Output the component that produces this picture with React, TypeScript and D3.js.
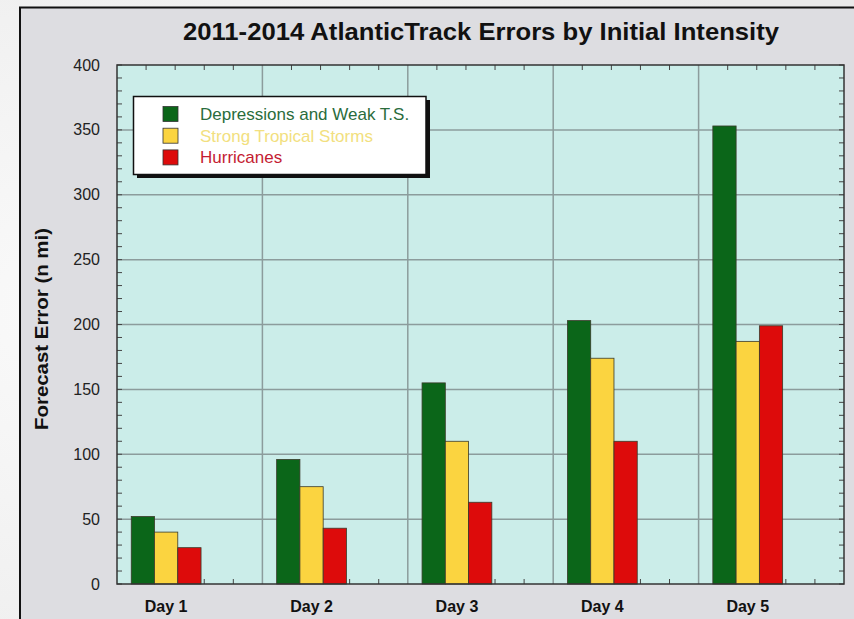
import React from 'react';
import * as d3 from 'd3';

const days = ['Day 1', 'Day 2', 'Day 3', 'Day 4', 'Day 5'];
const seriesNames = ['Depressions and Weak T.S.', 'Strong Tropical Storms', 'Hurricanes'];
const depressions = [52, 96, 155, 203, 353];
const strongStorms = [40, 75, 110, 174, 187];
const hurricanes = [28, 43, 63, 110, 199];
const yTicks = [0, 50, 100, 150, 200, 250, 300, 350, 400];

const barColors = ['#0b6619', '#fbd440', '#dd0b0b'];
const textColors = ['#2a6c3c', '#f2df80', '#c41c32'];

const W = 854;
const H = 619;
const font = '"Liberation Sans", Arial, sans-serif';

const App = () => {
  const left = 117, right = 844, top = 65, bottom = 584;

  const x0 = d3.scaleBand().domain(days).range([left, right]).padding(0);
  const bw = x0.bandwidth();
  const x1 = d3.scaleBand().domain(seriesNames).range([bw * 0.098, bw * 0.578]).padding(0);
  const y = d3.scaleLinear().domain([0, 400]).range([bottom, top]);

  const allSeries = [depressions, strongStorms, hurricanes];

  // minor ticks: every 10 units on y, fifths of a category on x
  const yMinor = d3.range(0, 401, 10);
  const xMinor = [];
  days.forEach(d => {
    for (let k = 1; k < 5; k++) xMinor.push(x0(d) + (bw * k) / 5);
  });
  const tl = 5;

  return (
    <svg width={W} height={H} style={{ position: 'absolute', left: 0, top: 0, display: 'block' }}>
      <defs>
        <radialGradient id="bg" cx="0.1" cy="0.5" r="0.9">
          <stop offset="0" stopColor="#fafafa" />
          <stop offset="1" stopColor="#e9e9e9" />
        </radialGradient>
      </defs>
      <rect x={0} y={0} width={W} height={H} fill="url(#bg)" />
      <rect x={20} y={7.5} width={W + 10} height={H} fill="#dddde1" stroke="#111" strokeWidth={2} />

      <text x={481} y={40} textAnchor="middle" fontFamily={font} fontWeight="bold" fontSize={24}
        textLength={596} lengthAdjust="spacingAndGlyphs" fill="#111">
        2011-2014 AtlanticTrack Errors by Initial Intensity
      </text>

      {/* plot area */}
      <rect x={left} y={top} width={right - left} height={bottom - top} fill="#cbede9" />

      {yTicks.slice(1, -1).map(t => (
        <line key={'gy' + t} x1={left} x2={right} y1={y(t)} y2={y(t)} stroke="#8c9c9c" strokeWidth={1.5} />
      ))}
      {days.slice(1).map(d => (
        <line key={'gx' + d} x1={x0(d)} x2={x0(d)} y1={top} y2={bottom} stroke="#8c9c9c" strokeWidth={1.5} />
      ))}

      {yMinor.map(t => (
        <g key={'my' + t} stroke="#444" strokeWidth={1}>
          <line x1={left} x2={left + tl} y1={y(t)} y2={y(t)} />
          <line x1={right} x2={right - tl} y1={y(t)} y2={y(t)} />
        </g>
      ))}
      {xMinor.map((xx, i) => (
        <g key={'mx' + i} stroke="#444" strokeWidth={1}>
          <line x1={xx} x2={xx} y1={top} y2={top + tl} />
          <line x1={xx} x2={xx} y1={bottom} y2={bottom - tl} />
        </g>
      ))}

      {days.map((d, i) => (
        <g key={d} transform={`translate(${x0(d)},0)`}>
          {seriesNames.map((s, j) => (
            <rect
              key={s}
              x={x1(s)}
              y={y(allSeries[j][i])}
              width={x1.bandwidth()}
              height={y(0) - y(allSeries[j][i])}
              fill={barColors[j]}
              stroke="#3a3a2a"
              strokeWidth={0.8}
            />
          ))}
        </g>
      ))}

      <rect x={left} y={top} width={right - left} height={bottom - top} fill="none" stroke="#333" strokeWidth={1.5} />

      {yTicks.map(t => (
        <text key={'yl' + t} x={100} y={y(t)} dy="0.35em" textAnchor="end" fontFamily={font} fontSize={16} fill="#222">
          {t}
        </text>
      ))}

      {days.map(d => (
        <text key={'xl' + d} x={x0(d) + (x1.range()[0] + x1.range()[1]) / 2} y={612} textAnchor="middle"
          fontFamily={font} fontWeight="bold" fontSize={16} fill="#111">
          {d}
        </text>
      ))}

      <text transform="translate(48,329) rotate(-90)" textAnchor="middle" fontFamily={font} fontWeight="bold" fontSize={18}
        textLength={202} lengthAdjust="spacingAndGlyphs" fill="#111">
        Forecast Error (n mi)
      </text>

      {/* legend */}
      <rect x={137} y={100} width={293} height={78} fill="#111" />
      <rect x={133.5} y={96.5} width={292.5} height={78} fill="#fff" stroke="#111" strokeWidth={1.5} />
      {seriesNames.map((s, j) => (
        <g key={'lg' + s} transform={`translate(0,${114 + j * 21.7})`}>
          <rect x={163} y={-7.5} width={15} height={15} fill={barColors[j]} stroke="#333" strokeWidth={0.8} />
          <text x={200} y={0} dy="0.35em" fontFamily={font} fontSize={17} fill={textColors[j]}>{s}</text>
        </g>
      ))}
    </svg>
  );
};

export default App;
